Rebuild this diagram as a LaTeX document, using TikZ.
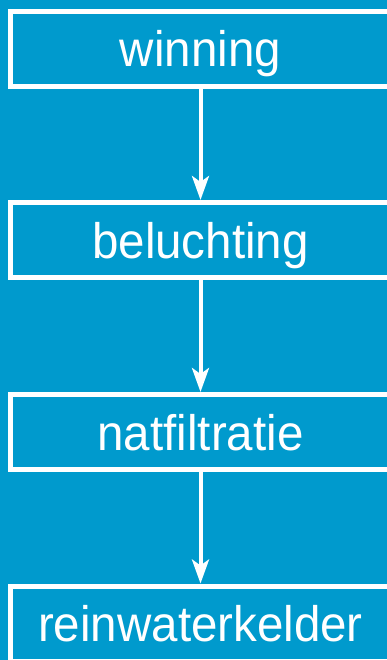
\documentclass[tikz,border=0pt]{standalone}
\usepackage{fontspec}
\setmainfont{Liberation Sans}
\usetikzlibrary{arrows.meta}
\definecolor{bgblue}{HTML}{009ACD}
\newcommand{\stagetext}[1]{\scalebox{1.0}[1.05]{#1}}
\begin{document}
\begin{tikzpicture}[x=1pt,y=-1pt,
  stagebox/.style={draw=white, line width=5pt, rectangle, inner sep=0pt,
    minimum width=381pt, minimum height=75pt, text=white,
    font=\fontsize{47.5}{50}\selectfont, text height=36pt, text depth=0pt},
  flowarrow/.style={draw=white, line width=4pt,
    -{Stealth[length=24pt, width=17pt, inset=6pt]}}]
\fill[bgblue] (0,0) rectangle (387,660);
\useasboundingbox (0,0) rectangle (387,660);
\node[stagebox] (b1) at (200.5,49) {\stagetext{winning}};
\node[stagebox] (b2) at (200.5,240) {\stagetext{beluchting}};
\node[stagebox] (b3) at (200.5,432) {\stagetext{natfiltratie}};
\node[stagebox] (b4) at (200.5,623.5) {\stagetext{reinwaterkelder}};
\draw[flowarrow] (b1.south) -- (b2.north);
\draw[flowarrow] (b2.south) -- (b3.north);
\draw[flowarrow] (b3.south) -- (b4.north);
\end{tikzpicture}
\end{document}
